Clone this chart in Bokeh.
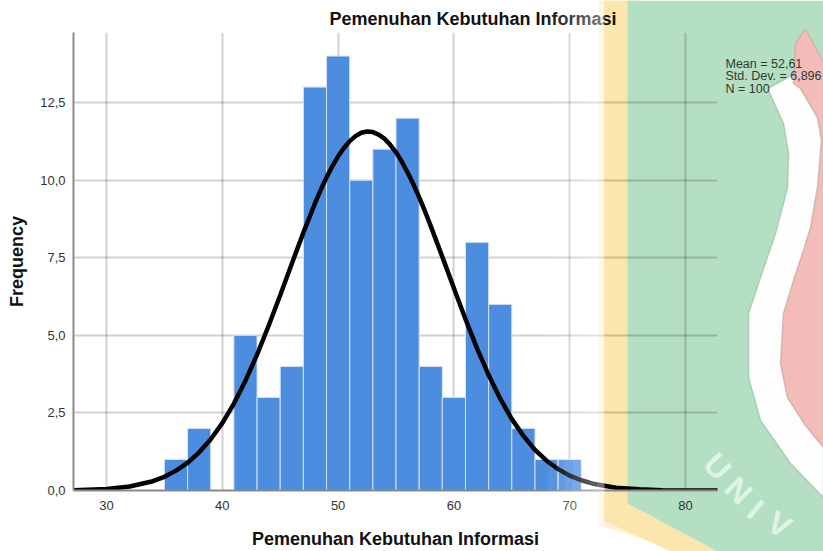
from bokeh.plotting import figure
from bokeh.embed import file_html
from bokeh.layouts import column, row
from bokeh.resources import INLINE
from bokeh.core.properties import value
from bokeh.models import Range1d, FixedTicker, Title

# ---- data
bin_centers = [36, 38, 42, 44, 46, 48, 50, 52, 54, 56, 58, 60, 62, 64, 66, 68, 70]
bar_counts = [1, 2, 5, 3, 4, 13, 14, 10, 11, 12, 4, 3, 8, 6, 2, 1, 1]
curve_x = [27.2, 30, 32, 34, 35, 36, 37, 38, 39, 40, 41, 42, 43, 44, 45, 46, 47, 48, 48.5, 49, 49.5, 50, 50.5, 51,
           51.5, 52, 52.5, 53, 53.5, 54, 54.5, 55, 55.5, 56, 56.5, 57, 57.5, 58, 59, 60, 61, 62, 63, 64, 65, 66,
           67, 68, 69, 70, 71, 72, 74, 76, 78, 80, 82.8]
curve_y = [0.01, 0.05, 0.13, 0.30, 0.44, 0.64, 0.89, 1.23, 1.65, 2.17, 2.80, 3.54, 4.38, 5.31, 6.29, 7.31, 8.31,
           9.25, 9.69, 10.09, 10.45, 10.77, 11.04, 11.26, 11.42, 11.53, 11.57, 11.55, 11.47, 11.34, 11.14, 10.90,
           10.60, 10.25, 9.87, 9.45, 9.00, 8.52, 7.53, 6.52, 5.52, 4.58, 3.72, 2.96, 2.30, 1.76, 1.31, 0.96,
           0.69, 0.48, 0.33, 0.22, 0.09, 0.04, 0.01, 0.0, 0.0]
x_ticks = [30, 40, 50, 60, 70, 80]
y_ticks = [0, 2.5, 5, 7.5, 10, 12.5]
y_tick_labels = ["0,0", "2,5", "5,0", "7,5", "10,0", "12,5"]
title_text = "Pemenuhan Kebutuhan Informasi"
stats_lines = ["Mean = 52,61", "Std. Dev. = 6,896", "N = 100"]
watermark_letters = ["U", "N", "I", "V"]

W, H = 823, 551
FONT = "Liberation Sans"


def layer():
    f = figure(width=W, height=H, output_backend="svg", toolbar_location=None,
               x_range=Range1d(0, W), y_range=Range1d(H, 0), min_border=0,
               background_fill_color=None, border_fill_color=None, outline_line_color=None)
    f.axis.visible = False
    f.grid.visible = False
    return f


# ---- watermark layer, behind the chart
bg = layer()
bg.background_fill_color = "#ffffff"
bg.border_fill_color = "#ffffff"


def poly(f, pts, color, alpha=1.0, line=None):
    f.patch([q[0] for q in pts], [q[1] for q in pts], fill_color=color, fill_alpha=alpha,
            line_color=line, line_width=1.5, line_alpha=0.8 if line else 0)


poly(bg, [(598, 0), (640, 0), (640, 510), (717, 551), (682, 551), (598, 525)], "#fdf3d9")
poly(bg, [(603, 0), (640, 0), (640, 510), (717, 551), (670, 551), (603, 520)], "#fbe6ae")
poly(bg, [(627, 0), (823, 0), (823, 551), (717, 551), (627, 503)], "#b5dfc3")
poly(bg, [(767, 88), (783, 123), (788, 153), (787, 187), (775, 233), (760, 277), (748, 313), (748, 377), (760, 420),
          (790, 463), (823, 497), (823, 70), (800, 70)], "#fefefe", line="#a2c4ad")
poly(bg, [(805, 28), (795, 43), (793, 83), (800, 88), (817, 117), (821, 140), (817, 187), (810, 227), (803, 250),
          (793, 280), (783, 313), (780, 363), (787, 397), (805, 425), (823, 447), (823, 62)], "#f4bcb8", line="#c9aea8")
bg.text(x=[717, 738, 755, 779], y=[466, 490, 509, 524], text=watermark_letters, angle=[-48, -44, -40, -32],
        angle_units="deg", text_font=value(FONT), text_font_size="32px", text_font_style="bold",
        text_color="#dff4e6", text_align="center", text_baseline="middle")
bg.text(x=[725] * 3, y=[63, 75.5, 88], text=stats_lines, text_font=value(FONT), text_font_size="12.5px",
        text_color="#2f3a33", text_baseline="middle")

# ---- the chart
p = figure(width=W, height=H, output_backend="svg", toolbar_location=None,
           x_range=Range1d(27.15, 82.76), y_range=Range1d(0, 14.76),
           min_border_left=73, min_border_right=106, min_border_top=32, min_border_bottom=60,
           background_fill_color=None, border_fill_color=None, outline_line_color=None)
p.vbar(x=bin_centers, top=bar_counts, width=2, fill_color="#4d8de0", line_color="#d4e3f6", line_width=1)
p.line(curve_x, curve_y, line_color="#030303", line_width=4.5, line_cap="round")

p.xaxis.ticker = FixedTicker(ticks=x_ticks)
p.yaxis.ticker = FixedTicker(ticks=y_ticks)
p.xgrid.ticker = FixedTicker(ticks=x_ticks)
p.ygrid.ticker = FixedTicker(ticks=y_ticks)
p.yaxis.major_label_overrides = dict(zip(y_ticks, y_tick_labels))
for g in (p.xgrid, p.ygrid):
    g.grid_line_color = "#000000"
    g.grid_line_alpha = 0.18
    g.grid_line_width = 2
for a in (p.xaxis, p.yaxis):
    a.axis_line_color = "#8a8a8a"
    a.axis_line_width = 2
    a.major_tick_line_color = None
    a.minor_tick_line_color = None
    a.major_label_text_font = FONT
    a.major_label_text_font_size = "13px"
    a.major_label_text_color = "#333333"
    a.axis_label_text_font = FONT
    a.axis_label_text_font_size = "18px"
    a.axis_label_text_font_style = "bold"
    a.axis_label_text_color = "#111111"
    a.major_label_standoff = 4
p.yaxis.major_label_standoff = 2
p.xaxis.axis_label = title_text
p.yaxis.axis_label = "Frequency"
p.xaxis.axis_label_standoff = 16
p.yaxis.axis_label_standoff = 10
p.yaxis.major_label_orientation = "horizontal"

p.title = Title(text=title_text, align="left", offset=329 - 73, text_font=FONT, text_font_size="18px",
                text_font_style="bold", text_color="#111111", standoff=7)

# ---- white veil on top that fades the chart towards the watermark
veil = layer()
for k, xl in enumerate(range(548, 603, 8)):
    poly(veil, [(xl, 0), (xl + 8, 0), (xl + 8, H), (xl, H)], "#ffffff", alpha=0.06 * (k + 1))

page = column(row(bg), row(p, margin=(-H, 0, 0, 0)), row(veil, margin=(-H, 0, 0, 0)), spacing=0)
open("out.html", "w").write(file_html(page, INLINE))
